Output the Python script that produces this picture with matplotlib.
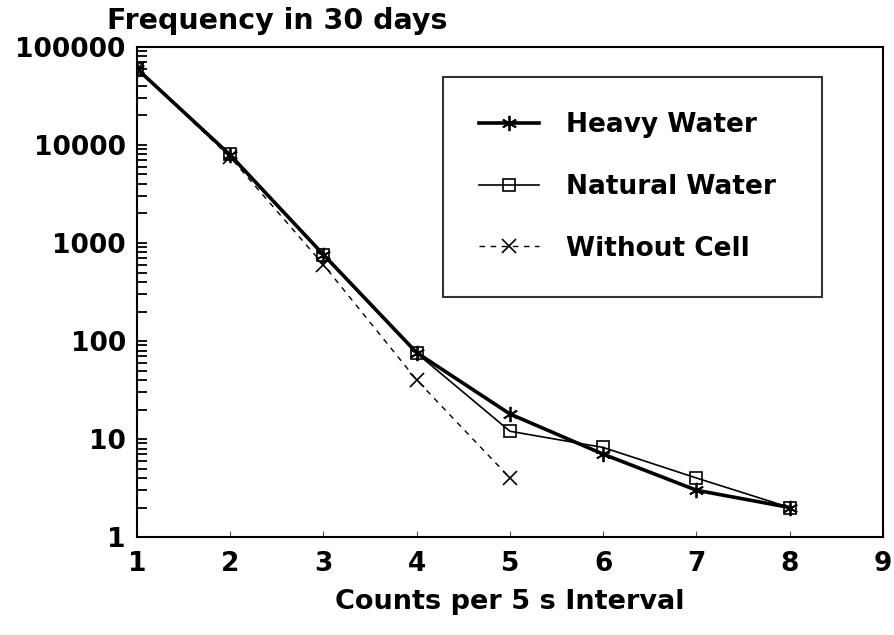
import matplotlib
matplotlib.use("Agg")
from matplotlib import pyplot as plt
from matplotlib.ticker import LogLocator, NullFormatter, FixedLocator

plt.rcParams["font.family"] = "DejaVu Sans"
plt.rcParams["font.weight"] = "bold"

counts = [1, 2, 3, 4, 5, 6, 7, 8]
heavy_water = [60000, 7900, 760, 76, 18, 7, 3, 2]
natural_water = [60000, 8000, 750, 75, 12, 8.2, 4, 2]
counts_nocell = [1, 2, 3, 4, 5]
without_cell = [60000, 7500, 600, 40, 4]

x_ticks = [1, 2, 3, 4, 5, 6, 7, 8, 9]
y_ticks = [1, 10, 100, 1000, 10000, 100000]
y_labels = ["1", "10", "100", "1000", "10000", "100000"]

fig = plt.figure(figsize=(8.95, 6.35), dpi=100)
ax = fig.add_axes([0.153, 0.1543, 0.8336, 0.7717])

asterisk = (6, 2, 0)
ax.plot(counts, heavy_water, color="black", linewidth=2.6, marker=asterisk,
        markersize=11, markeredgewidth=1.3, label="Heavy Water")
ax.plot(counts, natural_water, color="black", linewidth=1.2, marker="s",
        markersize=8, markerfacecolor="none", markeredgewidth=1.2,
        label="Natural Water")
ax.plot(counts_nocell, without_cell, color="black", linewidth=1.0,
        linestyle=(0, (4, 4)), marker="x", markersize=10, markeredgewidth=1.2,
        label="Without Cell")

ax.set_yscale("log")
ax.set_ylim(1, 100000)
ax.set_xlim(1, 9)
ax.xaxis.set_major_locator(FixedLocator(x_ticks))
ax.yaxis.set_major_locator(FixedLocator(y_ticks))
ax.set_yticklabels(y_labels)
ax.yaxis.set_minor_locator(LogLocator(base=10, subs=range(2, 10), numticks=20))
ax.yaxis.set_minor_formatter(NullFormatter())

ax.tick_params(axis="y", which="both", direction="in", length=7, width=1.3,
               labelsize=19, pad=8)
ax.tick_params(axis="x", which="both", direction="in", length=4, width=0.8,
               labelsize=19, pad=10, color="#555555")
for lab in ax.get_xticklabels() + ax.get_yticklabels():
    lab.set_fontweight("bold")
for s in ax.spines.values():
    s.set_linewidth(1.5)

ax.set_xlabel("Counts per 5 s Interval", fontsize=19.5, fontweight="bold",
              labelpad=9)
fig.text(0.119, 0.967, "Frequency in 30 days", fontsize=20.5, fontweight="bold",
         ha="left", va="center")

leg = ax.legend(loc="upper left", bbox_to_anchor=(0.495, 0.879, 0.4235, 0.0),
                bbox_transform=fig.transFigure, mode="expand", borderaxespad=0,
                prop={"weight": "bold", "size": 19},
                frameon=True, fancybox=False, edgecolor="black",
                handlelength=2.3, handletextpad=1.0, borderpad=1.35,
                labelspacing=1.35)
leg.get_frame().set_linewidth(1.5)

fig.savefig("out.png", dpi=100)
